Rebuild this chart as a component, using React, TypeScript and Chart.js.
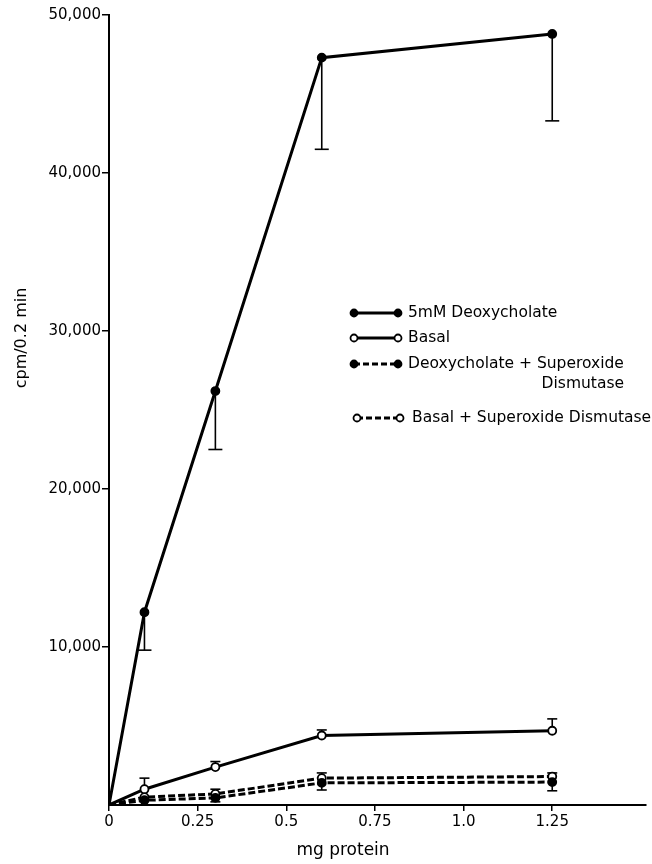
import React, { useEffect, useRef } from "react";
import { Chart, registerables } from "chart.js";

Chart.register(...registerables);

const xValues = [0, 0.1, 0.3, 0.6, 1.25];
const deoxy = [0, 12200, 26200, 47300, 48800];
const deoxyErr: (number[] | null)[] = [null, [9800, 12200], [22500, 26200], [41500, 47300], [43300, 48800]];
const basal = [0, 1000, 2400, 4400, 4700];
const basalErr: (number[] | null)[] = [null, [1000, 1700], [2400, 2750], [4400, 4750], [4700, 5450]];
const deoxySod = [0, 300, 450, 1400, 1450];
const deoxySodErr: (number[] | null)[] = [null, null, [200, 450], [950, 1400], [900, 1450]];
const basalSod = [0, 500, 700, 1700, 1800];
const basalSodErr: (number[] | null)[] = [null, null, [700, 1000], [1700, 2030], [1800, 2030]];

const xTickValues = [0, 0.25, 0.5, 0.75, 1.0, 1.25];
const xTickLabels = ["0", "0.25", "0.5", "0.75", "1.0", "1.25"];
const yTickValues = [10000, 20000, 30000, 40000, 50000];
const yTickLabels = ["10,000", "20,000", "30,000", "40,000", "50,000"];

const legendLabels = [
  "5mM Deoxycholate",
  "Basal",
  "Deoxycholate + Superoxide",
  "Basal + Superoxide Dismutase",
];
const legendSecondLine = "Dismutase";
const xTitle = "mg protein";
const yTitle = "cpm/0.2 min";

const FONT = "'DejaVu Sans', sans-serif";

export default function App() {
  const ref = useRef<HTMLCanvasElement | null>(null);

  useEffect(() => {
    document.body.style.margin = "0";
    const canvas = ref.current;
    if (!canvas) return;

    const pts = (ys: number[]) => xValues.map((x, i) => ({ x, y: ys[i] }));
    const radii = xValues.map((x) => (x === 0 ? 0 : 4));

    const errSets = [
      { err: deoxyErr, vals: deoxy, cap: 14 },
      { err: basalErr, vals: basal, cap: 10 },
      { err: deoxySodErr, vals: deoxySod, cap: 10 },
      { err: basalSodErr, vals: basalSod, cap: 10 },
    ];

    const errorBarPlugin = {
      id: "errorBars",
      beforeDatasetsDraw(chart: any) {
        const ctx = chart.ctx;
        const xs = chart.scales.x;
        const ys = chart.scales.y;
        ctx.save();
        ctx.strokeStyle = "#000";
        ctx.lineWidth = 1.6;
        errSets.forEach(({ err, vals, cap }) => {
          err.forEach((e, i) => {
            if (!e) return;
            const px = xs.getPixelForValue(xValues[i]);
            const y1 = ys.getPixelForValue(e[0]);
            const y2 = ys.getPixelForValue(e[1]);
            ctx.beginPath();
            ctx.moveTo(px, y1);
            ctx.lineTo(px, y2);
            ctx.stroke();
            ctx.beginPath();
            if (e[0] !== vals[i]) {
              ctx.moveTo(px - cap / 2, y1);
              ctx.lineTo(px + cap / 2, y1);
            }
            if (e[1] !== vals[i]) {
              ctx.moveTo(px - cap / 2, y2);
              ctx.lineTo(px + cap / 2, y2);
            }
            ctx.stroke();
          });
        });
        ctx.restore();
      },
    };

    const annotPlugin = {
      id: "annot",
      afterDraw(chart: any) {
        const ctx = chart.ctx;
        ctx.save();
        ctx.fillStyle = "#000";
        ctx.strokeStyle = "#000";
        // axis titles
        ctx.font = `17px ${FONT}`;
        ctx.textAlign = "center";
        ctx.textBaseline = "middle";
        ctx.fillText(xTitle, 343, 851);
        ctx.font = `16px ${FONT}`;
        ctx.save();
        ctx.translate(22, 338);
        ctx.rotate(-Math.PI / 2);
        ctx.fillText(yTitle, 0, 0);
        ctx.restore();

        // legend
        const rows = [
          { y: 313, x1: 354, x2: 398, tx: 408, filled: true, dash: [] as number[] },
          { y: 338, x1: 354, x2: 398, tx: 408, filled: false, dash: [] as number[] },
          { y: 364, x1: 354, x2: 398, tx: 408, filled: true, dash: [6, 3] },
          { y: 418, x1: 357, x2: 400, tx: 412, filled: false, dash: [6, 3] },
        ];
        rows.forEach((r, i) => {
          ctx.lineWidth = 3;
          ctx.setLineDash(r.dash);
          ctx.beginPath();
          ctx.moveTo(r.x1, r.y);
          ctx.lineTo(r.x2, r.y);
          ctx.stroke();
          ctx.setLineDash([]);
          ctx.lineWidth = 1.8;
          [r.x1, r.x2].forEach((cx) => {
            ctx.beginPath();
            ctx.arc(cx, r.y, 3.5, 0, Math.PI * 2);
            ctx.fillStyle = r.filled ? "#000" : "#fff";
            ctx.fill();
            ctx.stroke();
          });
          ctx.fillStyle = "#000";
          ctx.font = `15.5px ${FONT}`;
          ctx.textAlign = "left";
          ctx.textBaseline = "middle";
          ctx.fillText(legendLabels[i], r.tx, r.y);
        });
        ctx.textAlign = "right";
        ctx.fillText(legendSecondLine, 624, 384);
        ctx.restore();
      },
    };

    const common = {
      borderColor: "#000",
      borderWidth: 3,
      pointRadius: radii,
      pointBorderColor: "#000",
      pointBorderWidth: 1.8,
      tension: 0,
    };

    const chart = new Chart(canvas, {
      type: "line",
      data: {
        datasets: [
          { ...common, label: legendLabels[0], data: pts(deoxy), pointBackgroundColor: "#000" },
          { ...common, label: legendLabels[1], data: pts(basal), pointBackgroundColor: "#fff" },
          { ...common, label: legendLabels[2], data: pts(deoxySod), pointBackgroundColor: "#000", borderDash: [7, 3] },
          { ...common, label: legendLabels[3], data: pts(basalSod), pointBackgroundColor: "#fff", borderDash: [7, 3] },
        ],
      },
      options: {
        responsive: false,
        animation: false,
        devicePixelRatio: 1,
        layout: { padding: { top: 15, right: 0, left: 0, bottom: 0 } },
        plugins: {
          legend: { display: false },
          tooltip: { enabled: false },
          title: { display: false },
        },
        scales: {
          x: {
            type: "linear",
            min: 0,
            max: 1.515,
            border: { display: true, color: "#000", width: 2 },
            grid: { display: true, drawOnChartArea: false, drawTicks: true, tickLength: 6, color: "#000", lineWidth: 1.5 },
            afterBuildTicks(scale: any) {
              scale.ticks = xTickValues.map((v) => ({ value: v }));
            },
            afterFit(scale: any) {
              scale.height = 59;
            },
            ticks: {
              color: "#000",
              font: { family: FONT, size: 15 },
              padding: 2,
              maxRotation: 0,
              autoSkip: false,
              callback: (v: any) => {
                const idx = xTickValues.indexOf(Number(v));
                return idx >= 0 ? xTickLabels[idx] : "";
              },
            },
          },
          y: {
            type: "linear",
            min: 0,
            max: 50000,
            border: { display: true, color: "#000", width: 2 },
            grid: { display: true, drawOnChartArea: false, drawTicks: true, tickLength: 7, color: "#000", lineWidth: 1.5 },
            afterBuildTicks(scale: any) {
              scale.ticks = yTickValues.map((v) => ({ value: v }));
            },
            afterFit(scale: any) {
              scale.width = 109;
            },
            ticks: {
              color: "#000",
              font: { family: FONT, size: 15 },
              padding: 1,
              autoSkip: false,
              callback: (v: any) => {
                const idx = yTickValues.indexOf(Number(v));
                return idx >= 0 ? yTickLabels[idx] : "";
              },
            },
          },
        },
      },
      plugins: [errorBarPlugin, annotPlugin],
    } as any);

    return () => chart.destroy();
  }, []);

  return (
    <div style={{ width: 652, height: 864, background: "#fff" }}>
      <canvas ref={ref} width={652} height={864} style={{ display: "block" }} />
    </div>
  );
}
